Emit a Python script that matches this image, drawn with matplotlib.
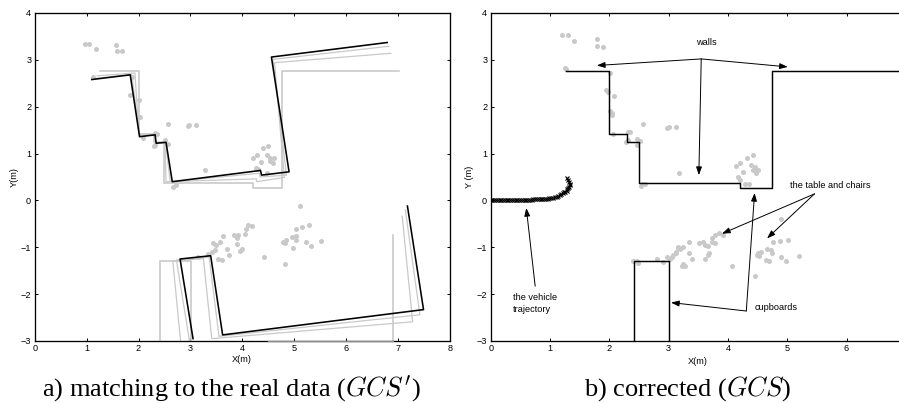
import matplotlib
matplotlib.use("Agg")
import matplotlib.pyplot as plt

plt.rcParams["font.family"] = ["Liberation Sans", "DejaVu Sans"]
plt.rcParams["mathtext.fontset"] = "cm"

GRAY = "#c9c9c9"
W, H = 899, 403

# pereti model (ideal)
ideal_up_x = [1.25, 2.00, 2.00, 2.30, 2.30, 2.50, 2.50, 4.21, 4.21, 4.77, 4.77, 7.01]
ideal_up_y = [2.76, 2.76, 1.42, 1.42, 1.24, 1.24, 0.38, 0.38, 0.27, 0.27, 2.76, 2.76]
ideal_low_x = [2.42, 2.42, 3.01, 3.01]
ideal_low_y = [-3.0, -1.29, -1.29, -3.0]
ideal_right_x = [6.90, 6.90]
ideal_right_y = [-3.0, -0.74]
ideal_bottom_x = [4.50, 6.90]
ideal_bottom_y = [-3.0, -3.0]

# potrivire intermediara
a_up_x = [1.20, 1.93, 2.01, 2.30, 2.32, 2.51, 2.53, 4.27, 4.28, 4.81, 4.62, 6.86]
a_up_y = [2.66, 2.72, 1.40, 1.41, 1.23, 1.24, 0.40, 0.46, 0.40, 0.49, 2.94, 3.14]
b_up_x = [1.12, 1.87, 2.02, 2.31, 2.33, 2.52, 2.61, 4.33, 4.34, 4.85, 4.59, 6.82]
b_up_y = [2.60, 2.69, 1.37, 1.40, 1.22, 1.24, 0.40, 0.58, 0.50, 0.54, 3.01, 3.29]
a_low_x = [2.81, 2.66, 3.25, 3.41, 7.28, 7.08]
a_low_y = [-3.0, -1.29, -1.24, -2.95, -2.59, -0.34]
b_low_x = [2.98, 2.73, 3.36, 3.55, 7.42, 7.14]
b_low_y = [-2.99, -1.27, -1.21, -2.90, -2.44, -0.20]

# potrivire finala
black_up_x = [1.10, 1.84, 2.02, 2.32, 2.34, 2.53, 2.65, 4.35, 4.37, 4.90, 4.56, 6.79]
black_up_y = [2.58, 2.68, 1.36, 1.40, 1.22, 1.24, 0.40, 0.64, 0.54, 0.61, 3.06, 3.37]
black_low_x = [3.05, 2.80, 3.39, 3.62, 7.49, 7.18]
black_low_y = [-2.95, -1.25, -1.18, -2.87, -2.33, -0.12]

# puncte senzor, stanga
left_x = [0.97, 1.05, 1.18, 1.57, 1.58, 1.69, 1.12, 1.87, 1.84, 2.00, 2.02, 2.08, 2.32, 2.35,
          2.32, 2.30, 2.51, 2.57, 2.56, 2.96, 2.98, 3.11, 3.29, 2.67, 2.73, 4.26, 4.31, 4.21,
          4.29, 4.36, 4.40, 4.50, 4.47, 4.53, 4.61, 4.53, 4.60, 4.47,
          3.60, 3.54, 3.74, 3.70, 3.62, 3.44, 3.50, 3.57, 3.47, 3.41, 3.34, 3.15, 3.83, 3.92,
          3.89, 4.05, 4.11, 4.19, 4.07, 3.99, 3.95, 3.89, 4.42, 4.83,
          5.12, 5.03, 5.15, 5.28, 4.95, 5.03, 5.03, 4.85, 4.82, 4.79, 5.22, 5.32, 4.98, 5.51]
left_y = [3.34, 3.34, 3.24, 3.32, 3.18, 3.18, 2.64, 2.64, 2.25, 2.14, 1.77, 1.33, 1.44, 1.41,
          1.19, 1.16, 1.29, 1.21, 1.63, 1.59, 1.61, 1.62, 0.66, 0.29, 0.33, 0.70, 0.68, 0.91,
          0.98, 0.81, 1.11, 1.16, 0.97, 0.91, 0.90, 0.84, 0.79, 0.59,
          -1.28, -1.24, -1.17, -1.03, -0.76, -0.91, -0.96, -0.89, -1.06, -1.10, -1.14, -1.21,
          -0.74, -0.74, -0.81, -0.71, -0.53, -0.54, -0.60, -1.03, -1.08, -0.92, -1.21, -1.36,
          -0.11, -0.62, -0.56, -0.52, -0.78, -0.76, -0.85, -0.85, -0.91, -0.89, -0.89, -0.97,
          -1.02, -0.86]

# puncte senzor, dreapta
right_x = [1.21, 1.30, 1.40, 1.79, 1.79, 1.90, 1.27, 1.25, 2.01, 1.94, 1.98, 2.08, 2.04, 2.02,
           2.05, 2.07, 2.32, 2.35, 2.28, 2.32, 2.46, 2.52, 2.47, 2.57, 2.97, 3.00, 3.12, 3.17,
           2.55, 2.60, 2.53, 4.32, 4.42, 4.13, 4.21, 4.26, 4.39, 4.45, 4.51, 4.42, 4.47, 4.17,
           4.21, 4.28, 4.35, 4.90, 4.76, 4.87, 5.01, 4.66, 4.73, 4.74, 4.51, 4.56, 4.53, 4.49,
           4.65, 4.69, 4.90, 4.98, 5.20, 4.07, 4.46, 3.85, 3.92, 3.78, 3.74, 3.78, 3.74, 3.66,
           3.58, 3.52, 3.61, 3.68, 3.62, 3.66, 3.34, 3.24, 3.19, 3.12, 3.16, 3.06, 3.02, 3.35,
           3.40, 3.24, 3.22, 3.27, 3.16, 3.13, 3.08, 2.97, 2.91, 2.80, 2.46, 2.40, 2.49]
right_y = [3.53, 3.52, 3.41, 3.44, 3.30, 3.28, 2.81, 2.83, 2.72, 2.35, 2.32, 2.22, 1.86, 1.90,
           1.83, 1.41, 1.47, 1.46, 1.24, 1.30, 1.31, 1.26, 1.19, 1.64, 1.55, 1.57, 1.57, 0.59,
           0.35, 0.35, 0.30, 0.91, 0.96, 0.74, 0.79, 0.61, 0.76, 0.72, 0.65, 0.65, 0.58, 0.51,
           0.44, 0.36, 0.36, -0.40, -0.89, -0.86, -0.84, -1.04, -1.06, -1.13, -1.13, -1.09,
           -1.18, -1.16, -1.27, -1.30, -1.20, -1.29, -1.19, -1.41, -1.61, -0.69, -0.74, -0.74,
           -0.81, -0.91, -0.88, -0.97, -0.88, -0.91, -0.95, -1.13, -1.24, -1.16, -0.88, -1.00,
           -1.04, -1.09, -1.02, -1.20, -1.24, -1.13, -1.26, -1.36, -1.40, -1.40, -0.99, -1.13,
           -1.16, -1.20, -1.31, -1.24, -1.29, -1.29, -1.34]

# traiectoria vehiculului
traj_x = [0.00, 0.03, 0.06, 0.09, 0.12, 0.15, 0.18, 0.21, 0.24, 0.27, 0.30, 0.33, 0.36, 0.39,
          0.42, 0.45, 0.48, 0.51, 0.54, 0.57, 0.60, 0.63, 0.66, 0.69, 0.72, 0.75, 0.78, 0.81,
          0.84, 0.87, 0.90, 0.93, 0.96, 0.99, 1.02, 1.05, 1.08, 1.11, 1.14, 1.17, 1.19, 1.22,
          1.24, 1.26, 1.28, 1.29, 1.31, 1.32, 1.33, 1.33, 1.32, 1.31, 1.29]
traj_y = [0.00, 0.00, 0.00, 0.00, 0.00, 0.00, 0.00, 0.00, 0.00, 0.00, 0.00, 0.00, 0.00, 0.00,
          0.00, 0.00, 0.00, 0.00, 0.01, 0.01, 0.01, 0.01, 0.01, 0.01, 0.02, 0.02, 0.02, 0.02,
          0.03, 0.03, 0.03, 0.04, 0.04, 0.05, 0.05, 0.06, 0.07, 0.08, 0.09, 0.11, 0.13, 0.15,
          0.17, 0.19, 0.21, 0.24, 0.26, 0.29, 0.32, 0.35, 0.39, 0.43, 0.48]

# zidurile corectate
wall_up_x = [1.27, 2.00, 2.00, 2.30, 2.30, 2.50, 2.50, 4.20, 4.20, 4.75, 4.75, 7.00]
wall_up_y = [2.76, 2.76, 1.42, 1.42, 1.24, 1.24, 0.38, 0.38, 0.27, 0.27, 2.76, 2.76]
wall_low_x = [2.42, 2.42, 3.00, 3.00]
wall_low_y = [-3.0, -1.29, -1.29, -3.0]

# adnotari: text, pozitie, origine sageti, varfuri
labels = ["walls", "the table and chairs", "cupboards", "the vehicle\ntrajectory"]
label_x = [3.63, 5.05, 4.45, 0.38]
label_y = [3.38, 0.31, -2.29, -2.20]
label_ha = ["center", "left", "left", "left"]
origins = [(3.55, 3.02), (5.46, 0.14), (4.31, -2.36), (0.75, -1.83)]
tips = [[(1.79, 2.88), (5.01, 2.85), (3.51, 0.54)],
        [(3.90, -0.71), (4.66, -0.81)],
        [(4.45, 0.16), (3.04, -2.18)],
        [(0.60, -0.16)]]


def make_axes(x0, x1, y0, y1):
    ax = fig.add_axes([x0 / W, 1 - y1 / H, (x1 - x0) / W, (y1 - y0) / H])
    ax.tick_params(direction="in", top=True, right=True, length=2.4, width=0.7,
                   labelsize=6.6, pad=2.5)
    for s in ax.spines.values():
        s.set_linewidth(0.95)
    ax.set_ylim(-3, 4)
    ax.set_yticks(range(-3, 5))
    return ax


fig = plt.figure(figsize=(W / 100, H / 100), dpi=100)

# panoul a
ax1 = make_axes(34.7, 450, 13, 341)
ax1.set_xlim(0, 8)
ax1.set_xticks(range(0, 9))
ax1.scatter(left_x, left_y, s=13, color=GRAY, linewidths=0, zorder=1)
ax1.plot(ideal_up_x, ideal_up_y, color=GRAY, lw=1.2, zorder=2)
ax1.plot(ideal_low_x, ideal_low_y, color=GRAY, lw=1.2, zorder=2)
ax1.plot(ideal_right_x, ideal_right_y, color=GRAY, lw=1.2, zorder=2)
ax1.plot(ideal_bottom_x, ideal_bottom_y, color="#8c8c8c", lw=0.95, zorder=3, clip_on=False)
for xs, ys in [(a_up_x, a_up_y), (b_up_x, b_up_y), (a_low_x, a_low_y), (b_low_x, b_low_y)]:
    ax1.plot(xs, ys, color=GRAY, lw=0.9, zorder=2)
ax1.plot(black_up_x, black_up_y, color="black", lw=1.15, zorder=3)
ax1.plot(black_low_x, black_low_y, color="black", lw=1.15, zorder=3)

# panoul b
ax2 = make_axes(490.7, 899, 13, 341)
ax2.set_xlim(0, 6.885)
ax2.set_xticks(range(0, 7))
ax2.spines["right"].set_visible(False)
ax2.tick_params(right=False)
ax2.scatter(right_x, right_y, s=13, color=GRAY, linewidths=0, zorder=1)
ax2.plot(wall_up_x, wall_up_y, color="black", lw=1.05, zorder=3)
ax2.plot(wall_low_x, wall_low_y, color="black", lw=1.05, zorder=3)
ax2.plot(traj_x, traj_y, color="black", ls="none", marker="x", ms=3, mew=0.8, zorder=3)

for text, tx, ty, ha, start, ends in zip(labels, label_x, label_y, label_ha, origins, tips):
    ax2.text(tx, ty, text, fontsize=6.6, ha=ha, va="center", linespacing=1.3)
    for end in ends:
        ax2.annotate("", xy=end, xytext=start,
                     arrowprops=dict(arrowstyle="-|>,head_length=0.7,head_width=0.25",
                                     color="black", lw=0.7, shrinkA=0, shrinkB=0,
                                     mutation_scale=7))

fig.text(242 / W, 1 - 360 / H, "X(m)", fontsize=6.6, ha="center", va="center")
fig.text(14 / W, 1 - 177 / H, "Y(m)", fontsize=6.6, ha="center", va="center", rotation=90)
fig.text(698 / W, 1 - 361 / H, "X(m)", fontsize=6.6, ha="center", va="center")
fig.text(470 / W, 1 - 177 / H, "Y (m)", fontsize=6.6, ha="center", va="center", rotation=90)

fig.text(231 / W, 1 - 396 / H, "a) matching to the real data ($GCS'$)", fontsize=19.0,
         family="Liberation Serif", ha="center", va="baseline")
fig.text(688 / W, 1 - 396 / H, "b) corrected ($GCS$)", fontsize=19.0,
         family="Liberation Serif", ha="center", va="baseline")

fig.savefig("out.png", dpi=100)
